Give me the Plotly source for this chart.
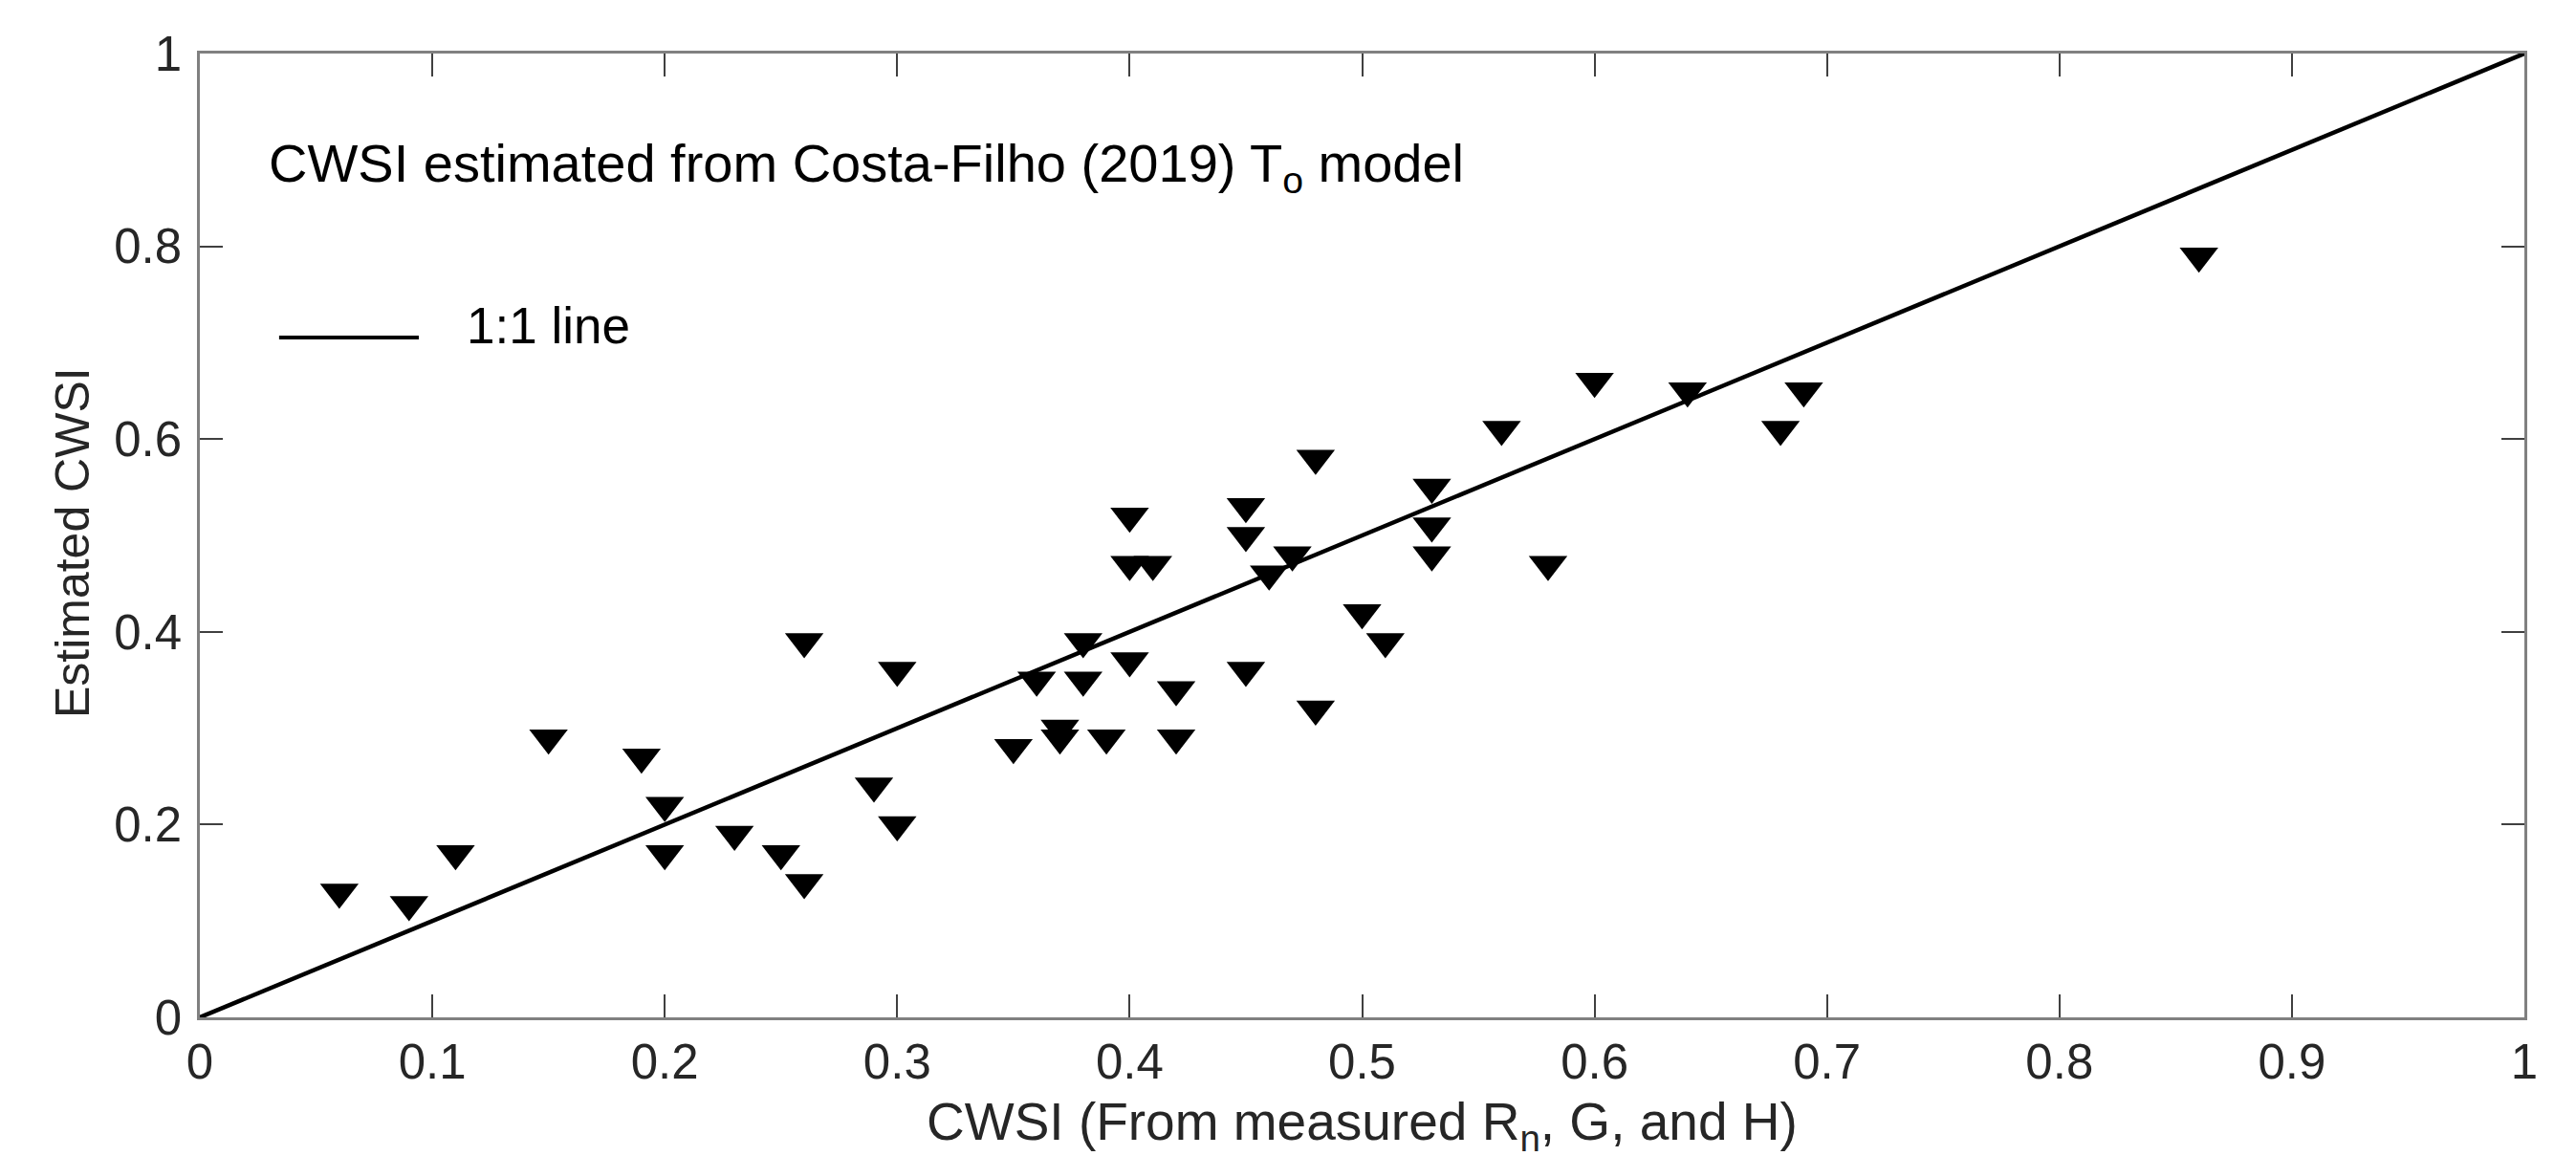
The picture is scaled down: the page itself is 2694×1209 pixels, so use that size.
import plotly.graph_objects as go

# Measured CWSI (x) vs estimated CWSI (y)
cwsi_measured = [0.06, 0.09, 0.11, 0.15, 0.19, 0.20, 0.20, 0.23, 0.25, 0.26,
                 0.26, 0.29, 0.30, 0.30, 0.35, 0.36, 0.37, 0.37, 0.38, 0.38,
                 0.39, 0.40, 0.40, 0.40, 0.41, 0.42, 0.42, 0.45, 0.45, 0.45,
                 0.46, 0.47, 0.48, 0.48, 0.50, 0.51, 0.53, 0.53, 0.53, 0.56,
                 0.58, 0.60, 0.64, 0.68, 0.69, 0.86]
cwsi_estimated = [0.13, 0.117, 0.17, 0.29, 0.27, 0.22, 0.17, 0.19, 0.17, 0.14,
                  0.39, 0.24, 0.20, 0.36, 0.28, 0.35, 0.30, 0.29, 0.39, 0.35,
                  0.29, 0.52, 0.47, 0.37, 0.47, 0.34, 0.29, 0.53, 0.50, 0.36,
                  0.46, 0.48, 0.58, 0.32, 0.42, 0.39, 0.55, 0.51, 0.48, 0.61,
                  0.47, 0.66, 0.65, 0.61, 0.65, 0.79]

one_to_one = [0, 1]

x_tickvals = [0, 0.1, 0.2, 0.3, 0.4, 0.5, 0.6, 0.7, 0.8, 0.9, 1]
x_ticktext = ["0", "0.1", "0.2", "0.3", "0.4", "0.5", "0.6", "0.7", "0.8", "0.9", "1"]
y_tickvals = [0, 0.2, 0.4, 0.6, 0.8, 1]
y_ticktext = ["0", "0.2", "0.4", "0.6", "0.8", "1"]

FONT = "Liberation Sans, Arial, Helvetica, sans-serif"
TXT = "#262626"

fig = go.Figure()
fig.add_trace(go.Scatter(
    x=one_to_one, y=one_to_one, mode="lines",
    line=dict(color="black", width=4.5), name="1:1 line", showlegend=False,
    hoverinfo="skip"))
fig.add_trace(go.Scatter(
    x=cwsi_measured, y=cwsi_estimated, mode="markers",
    marker=dict(symbol="triangle-down", size=35, color="black",
                line=dict(width=0)),
    name="CWSI", showlegend=False))

axis_common = dict(
    range=[0, 1], showgrid=False, zeroline=False, showline=True,
    linecolor="#808080", linewidth=2.5, mirror="ticks", ticks="inside",
    ticklen=24, tickwidth=1.5, tickcolor="#404040",
    tickfont=dict(family=FONT, size=51, color=TXT),
)

fig.update_xaxes(**axis_common, tickvals=x_tickvals, ticktext=x_ticktext,
                 ticklabelstandoff=0)
fig.update_yaxes(**axis_common, tickvals=y_tickvals, ticktext=y_ticktext,
                 ticklabelstandoff=6)

# Axis titles
fig.add_annotation(text="CWSI (From measured R<sub>n</sub>, G, and H)",
                   xref="paper", yref="paper", x=0.5, y=-0.112,
                   xanchor="center", yanchor="middle", showarrow=False,
                   font=dict(family=FONT, size=55, color=TXT))
fig.add_annotation(text="Estimated CWSI", textangle=-90,
                   xref="paper", yref="paper", x=-0.0547, y=0.492,
                   xanchor="center", yanchor="middle", showarrow=False,
                   font=dict(family=FONT, size=50, color=TXT))

# Manual legend for the 1:1 line
fig.add_shape(type="line", xref="paper", yref="paper",
              x0=0.0341, x1=0.0942, y0=0.7054, y1=0.7054,
              line=dict(color="black", width=4))
fig.add_annotation(text="1:1 line", xref="paper", yref="paper",
                   x=0.114, y=0.718, xanchor="left", yanchor="middle",
                   showarrow=False, font=dict(family=FONT, size=53, color="black"))

fig.add_annotation(text="CWSI estimated from Costa-Filho (2019) T<sub>o</sub> model",
                   xref="paper", yref="paper", x=0.029, y=0.882,
                   xanchor="left", yanchor="middle", showarrow=False,
                   font=dict(family=FONT, size=56, color="black"))

fig.update_layout(
    width=2694, height=1209,
    margin=dict(l=201, r=62, t=48, b=153),
    paper_bgcolor="white", plot_bgcolor="white",
    font=dict(family=FONT, color=TXT),
)

fig.write_html("out.html")
